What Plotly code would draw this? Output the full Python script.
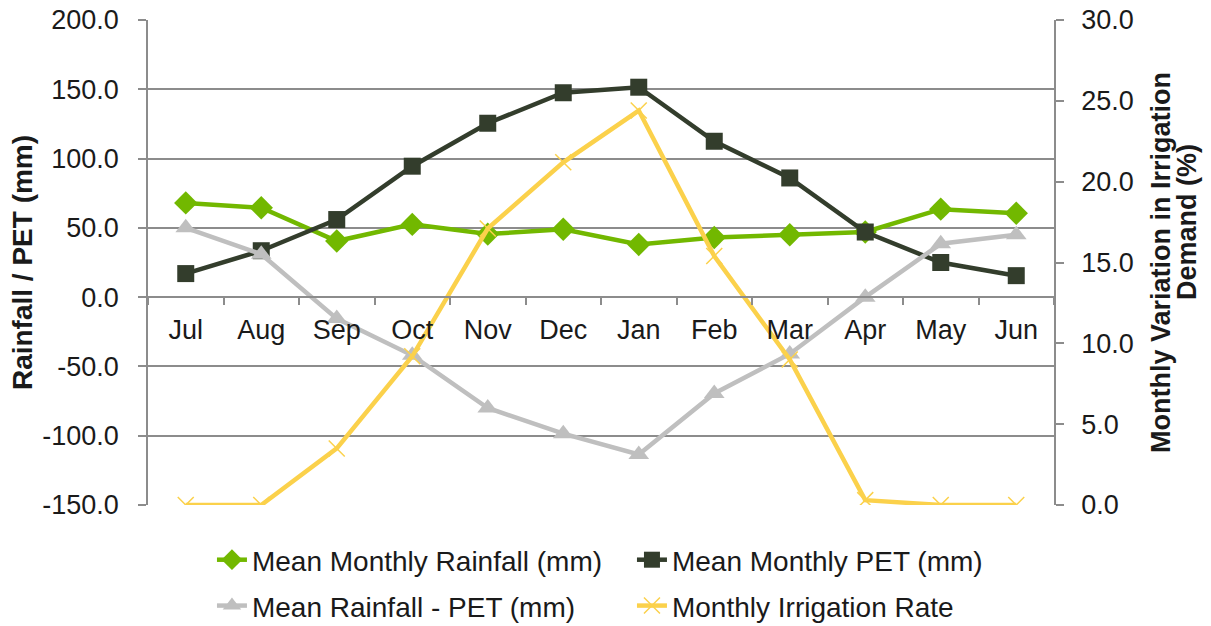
import plotly.graph_objects as go

months = ["Jul", "Aug", "Sep", "Oct", "Nov", "Dec", "Jan", "Feb", "Mar", "Apr", "May", "Jun"]
rainfall = [68.0, 64.5, 40.5, 52.5, 45.5, 49.0, 38.0, 43.0, 45.0, 47.0, 63.5, 60.5]
pet = [17.0, 33.5, 56.0, 94.5, 125.5, 147.5, 151.5, 112.5, 86.0, 47.0, 25.0, 15.5]
rain_minus_pet = [50.0, 31.0, -15.5, -42.0, -80.0, -98.5, -113.5, -69.5, -41.0, 0.0, 38.5, 45.0]
irrigation = [0.0, 0.0, 3.5, 9.2, 17.1, 21.2, 24.4, 15.4, 9.0, 0.3, 0.0, 0.0]

left_ticks = [-150, -100, -50, 0, 50, 100, 150, 200]
left_tick_labels = ["-150.0", "-100.0", "-50.0", "0.0", "50.0", "100.0", "150.0", "200.0"]
right_ticks = [0, 5, 10, 15, 20, 25, 30]
right_tick_labels = ["0.0", "5.0", "10.0", "15.0", "20.0", "25.0", "30.0"]

FONT = "Liberation Sans, Arial, sans-serif"
GRID = "#8c8c8c"
TXT = "#1a1a1a"
FS = 27
FS_LEG = 28
FS_TITLE = 27

fig = go.Figure()
fig.add_trace(go.Scatter(
    x=months, y=rainfall, name="Mean Monthly Rainfall (mm)", mode="lines+markers",
    legend="legend",
    line=dict(color="#72b800", width=4.5),
    marker=dict(symbol="diamond", size=18, color="#72b800")))
fig.add_trace(go.Scatter(
    x=months, y=pet, name="Mean Monthly PET (mm)", mode="lines+markers",
    legend="legend",
    line=dict(color="#333d2c", width=4.5),
    marker=dict(symbol="square", size=17, color="#333d2c")))
fig.add_trace(go.Scatter(
    x=months, y=rain_minus_pet, name="Mean Rainfall - PET (mm)", mode="lines+markers",
    legend="legend2",
    line=dict(color="#bfbfbf", width=4.5),
    marker=dict(symbol="triangle-up", size=18, color="#bfbfbf")))
fig.add_trace(go.Scatter(
    x=months, y=irrigation, name="Monthly Irrigation Rate", mode="lines+markers",
    yaxis="y2", legend="legend2",
    line=dict(color="#fbd14b", width=4.5),
    marker=dict(symbol="x-thin", size=16, color="#fbd14b",
                line=dict(color="#fbd14b", width=1.5))))

legend_common = dict(
    orientation="h", x=0.0706, xanchor="left", yanchor="middle",
    entrywidth=375, entrywidthmode="pixels",
    font=dict(size=FS_LEG, family=FONT, color=TXT),
    bgcolor="rgba(0,0,0,0)")

fig.update_layout(
    width=1211, height=626,
    margin=dict(l=148, r=157, t=20, b=121, autoexpand=False),
    paper_bgcolor="white", plot_bgcolor="white",
    font=dict(family=FONT, size=FS, color=TXT),
    xaxis=dict(
        type="category", range=[-0.5, 11.5],
        anchor="free", position=150 / 350,
        showline=True, linecolor=GRID, linewidth=1.5,
        ticks="outside", tickson="boundaries", ticklen=7, tickcolor=GRID, tickwidth=1.5,
        showgrid=False, ticklabelstandoff=9,
        tickfont=dict(size=FS, family=FONT, color=TXT)),
    yaxis=dict(
        range=[-150, 200], tickmode="array", tickvals=left_ticks, ticktext=left_tick_labels,
        showgrid=True, gridcolor=GRID, gridwidth=1.5,
        showline=True, linecolor=GRID, linewidth=1.5,
        ticks="outside", ticklen=8, tickcolor=GRID, tickwidth=1.5,
        zeroline=False, ticklabelstandoff=14, ticklabeloverflow="allow",
        title=dict(text="<b>Rainfall / PET (mm)</b>", font=dict(size=28, family=FONT, color=TXT),
                   standoff=1),
        tickfont=dict(size=FS, family=FONT, color=TXT)),
    yaxis2=dict(
        overlaying="y", side="right", range=[0, 30],
        tickmode="array", tickvals=right_ticks, ticktext=right_tick_labels,
        showgrid=False, zeroline=False,
        showline=True, linecolor=GRID, linewidth=1.5,
        ticks="outside", ticklen=8, tickcolor=GRID, tickwidth=1.5,
        ticklabelstandoff=12, ticklabeloverflow="allow",
        title=dict(text="<b>Monthly Variation in Irrigation</b>",
                   font=dict(size=FS_TITLE, family=FONT, color=TXT), standoff=18),
        tickfont=dict(size=FS, family=FONT, color=TXT)),
    legend=dict(legend_common, y=-0.1134),
    legend2=dict(legend_common, y=-0.208),
    showlegend=True,
    annotations=[dict(
        text="<b>Demand (%)</b>", xref="paper", yref="paper",
        x=1.1468, y=0.5835, xanchor="center", yanchor="middle",
        textangle=-90, showarrow=False,
        font=dict(size=FS_TITLE, family=FONT, color=TXT))],
)

fig.write_html("out.html", config={"displayModeBar": False},
               post_script="document.body.style.margin='0';")
